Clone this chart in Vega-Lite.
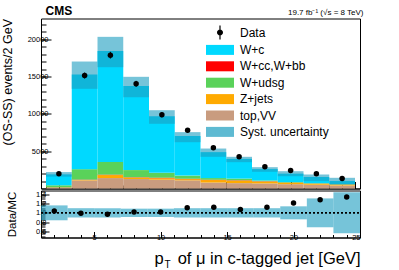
{
"$schema":"https://vega.github.io/schema/vega-lite/v6.json",
"padding":{"left":0,"top":3.5,"right":0,"bottom":0},
"config":{"font":"Liberation Sans","view":{"stroke":"black","strokeWidth":1},
 "axis":{"labelFont":"Liberation Sans","titleFont":"Liberation Sans","labelColor":"black","titleColor":"black","tickColor":"black","domainColor":"black","grid":false,"labelFontSize":7.5,"titleFontWeight":"normal","tickWidth":1,"domainWidth":1}},
"spacing":0,
"resolve":{"scale":{"color":"independent"},"legend":{"color":"independent"}},
"datasets":{
 "bins":[
  {"x0":1,"x1":3,"xc":2,"d":1970,"elo":1820,"ehi":2120,"lo":1590,"hi":2200,"r":1.04,"rlo":0.84,"rhi":1.16},
  {"x0":3,"x1":5,"xc":4,"d":15150,"elo":14750,"ehi":15550,"lo":13370,"hi":17030,"r":0.99,"rlo":0.90,"rhi":1.10},
  {"x0":5,"x1":7,"xc":6,"d":17880,"elo":17430,"ehi":18330,"lo":16270,"hi":20340,"r":0.97,"rlo":0.90,"rhi":1.10},
  {"x0":7,"x1":9,"xc":8,"d":14040,"elo":13640,"ehi":14440,"lo":12240,"hi":14980,"r":1.02,"rlo":0.91,"rhi":1.09},
  {"x0":9,"x1":11,"xc":10,"d":9880,"elo":9550,"ehi":10210,"lo":8680,"hi":10500,"r":1.02,"rlo":0.91,"rhi":1.09},
  {"x0":11,"x1":13,"xc":12,"d":7820,"elo":7530,"ehi":8110,"lo":6210,"hi":7560,"r":1.11,"rlo":0.90,"rhi":1.10},
  {"x0":13,"x1":15,"xc":14,"d":5460,"elo":5220,"ehi":5700,"lo":4250,"hi":5360,"r":1.12,"rlo":0.90,"rhi":1.10},
  {"x0":15,"x1":17,"xc":16,"d":4250,"elo":4040,"ehi":4460,"lo":3530,"hi":4250,"r":1.07,"rlo":0.90,"rhi":1.10},
  {"x0":17,"x1":19,"xc":18,"d":2910,"elo":2730,"ehi":3090,"lo":2240,"hi":2860,"r":1.12,"rlo":0.90,"rhi":1.10},
  {"x0":19,"x1":21,"xc":20,"d":2410,"elo":2250,"ehi":2570,"lo":1650,"hi":2320,"r":1.21,"rlo":0.86,"rhi":1.14},
  {"x0":21,"x1":23,"xc":22,"d":1970,"elo":1820,"ehi":2120,"lo":980,"hi":1880,"r":1.28,"rlo":0.69,"rhi":1.31},
  {"x0":23,"x1":25,"xc":24,"d":1340,"elo":1210,"ehi":1470,"lo":536,"hi":1435,"r":1.34,"rlo":0.56,"rhi":1.44}
 ],
 "stack":[
  {"x0":1,"x1":3,"c":"top,VV","k":0,"v":80},{"x0":1,"x1":3,"c":"Z+jets","k":1,"v":40},{"x0":1,"x1":3,"c":"W+cc,W+bb","k":2,"v":30},{"x0":1,"x1":3,"c":"W+udsg","k":3,"v":280},{"x0":1,"x1":3,"c":"W+c","k":4,"v":1465},
  {"x0":3,"x1":5,"c":"top,VV","k":0,"v":1080},{"x0":3,"x1":5,"c":"Z+jets","k":1,"v":60},{"x0":3,"x1":5,"c":"W+cc,W+bb","k":2,"v":50},{"x0":3,"x1":5,"c":"W+udsg","k":3,"v":1400},{"x0":3,"x1":5,"c":"W+c","k":4,"v":12710},
  {"x0":5,"x1":7,"c":"top,VV","k":0,"v":1400},{"x0":5,"x1":7,"c":"Z+jets","k":1,"v":400},{"x0":5,"x1":7,"c":"W+cc,W+bb","k":2,"v":60},{"x0":5,"x1":7,"c":"W+udsg","k":3,"v":1700},{"x0":5,"x1":7,"c":"W+c","k":4,"v":14870},
  {"x0":7,"x1":9,"c":"top,VV","k":0,"v":1270},{"x0":7,"x1":9,"c":"Z+jets","k":1,"v":200},{"x0":7,"x1":9,"c":"W+cc,W+bb","k":2,"v":40},{"x0":7,"x1":9,"c":"W+udsg","k":3,"v":960},{"x0":7,"x1":9,"c":"W+c","k":4,"v":11290},
  {"x0":9,"x1":11,"c":"top,VV","k":0,"v":1180},{"x0":9,"x1":11,"c":"Z+jets","k":1,"v":200},{"x0":9,"x1":11,"c":"W+cc,W+bb","k":2,"v":70},{"x0":9,"x1":11,"c":"W+udsg","k":3,"v":650},{"x0":9,"x1":11,"c":"W+c","k":4,"v":7590},
  {"x0":11,"x1":13,"c":"top,VV","k":0,"v":1090},{"x0":11,"x1":13,"c":"Z+jets","k":1,"v":170},{"x0":11,"x1":13,"c":"W+cc,W+bb","k":2,"v":50},{"x0":11,"x1":13,"c":"W+udsg","k":3,"v":420},{"x0":11,"x1":13,"c":"W+c","k":4,"v":5315},
  {"x0":13,"x1":15,"c":"top,VV","k":0,"v":800},{"x0":13,"x1":15,"c":"Z+jets","k":1,"v":330},{"x0":13,"x1":15,"c":"W+cc,W+bb","k":2,"v":50},{"x0":13,"x1":15,"c":"W+udsg","k":3,"v":220},{"x0":13,"x1":15,"c":"W+c","k":4,"v":3475},
  {"x0":15,"x1":17,"c":"top,VV","k":0,"v":720},{"x0":15,"x1":17,"c":"Z+jets","k":1,"v":330},{"x0":15,"x1":17,"c":"W+cc,W+bb","k":2,"v":50},{"x0":15,"x1":17,"c":"W+udsg","k":3,"v":230},{"x0":15,"x1":17,"c":"W+c","k":4,"v":2640},
  {"x0":17,"x1":19,"c":"top,VV","k":0,"v":680},{"x0":17,"x1":19,"c":"Z+jets","k":1,"v":250},{"x0":17,"x1":19,"c":"W+cc,W+bb","k":2,"v":40},{"x0":17,"x1":19,"c":"W+udsg","k":3,"v":100},{"x0":17,"x1":19,"c":"W+c","k":4,"v":1530},
  {"x0":19,"x1":21,"c":"top,VV","k":0,"v":580},{"x0":19,"x1":21,"c":"Z+jets","k":1,"v":180},{"x0":19,"x1":21,"c":"W+cc,W+bb","k":2,"v":30},{"x0":19,"x1":21,"c":"W+udsg","k":3,"v":80},{"x0":19,"x1":21,"c":"W+c","k":4,"v":1120},
  {"x0":21,"x1":23,"c":"top,VV","k":0,"v":500},{"x0":21,"x1":23,"c":"Z+jets","k":1,"v":130},{"x0":21,"x1":23,"c":"W+cc,W+bb","k":2,"v":30},{"x0":21,"x1":23,"c":"W+udsg","k":3,"v":60},{"x0":21,"x1":23,"c":"W+c","k":4,"v":820},
  {"x0":23,"x1":25,"c":"top,VV","k":0,"v":400},{"x0":23,"x1":25,"c":"Z+jets","k":1,"v":130},{"x0":23,"x1":25,"c":"W+cc,W+bb","k":2,"v":20},{"x0":23,"x1":25,"c":"W+udsg","k":3,"v":50},{"x0":23,"x1":25,"c":"W+c","k":4,"v":400}
 ]
},
"vconcat":[
 {"width":319,"height":170,
  "resolve":{"axis":{"x":"independent","y":"independent"}},
  "layer":[
   {"data":{"name":"stack"},"mark":{"type":"bar","orient":"vertical"},
    "encoding":{
     "x":{"field":"x0","type":"quantitative","scale":{"domain":[1,25],"nice":false,"zero":false},"axis":{"orient":"bottom","values":[5,10,15,20,25],"labels":false,"tickSize":-7,"title":null}},
     "x2":{"field":"x1"},
     "y":{"field":"v","type":"quantitative","stack":"zero","scale":{"domain":[0,22800],"nice":false},"axis":{"orient":"left","values":[5000,10000,15000,20000],"format":"d","tickSize":-10,"labelPadding":3,"title":"(OS-SS) events/2 GeV","titleFontSize":12.5,"titleAnchor":"end","titleX":-30,"titleBaseline":"alphabetic"}},
     "color":{"field":"c","type":"nominal",
       "scale":{"domain":["Data","W+c","W+cc,W+bb","W+udsg","Z+jets","top,VV","Syst. uncertainty"],"range":["#000000","#00d9ff","#ff0000","#5ad25a","#ffaa00","#c99c7f","#1a9dbf"]},
       "legend":{"orient":"none","legendX":173,"legendY":8,"title":null,"labelFontSize":12,"labelFont":"Liberation Sans","labelColor":"black","symbolSize":100,"symbolType":"M-2.8,-1H2.8V1H-2.8Z","labelOffset":14,"rowPadding":4.4,"padding":0,"symbolStrokeWidth":0,"symbolOpacity":1,"labelLimit":200,
         "encode":{"symbols":{"update":{"shape":{"signal":"datum.value === 'Data' ? 'M-0.6,0A0.6,0.6 0 1,1 0.6,0A0.6,0.6 0 1,1 -0.6,0ZM-0.12,-1.4H0.12V1.4H-0.12Z' : 'M-2.8,-1H2.8V1H-2.8Z'"},"opacity":{"signal":"datum.value === 'Syst. uncertainty' ? 0.7 : 1"}}}}}},
     "order":{"field":"k","type":"quantitative"}
    }},
   {"data":{"name":"bins"},"mark":{"type":"rect","opacity":0.6},
    "encoding":{
     "x":{"field":"x0","type":"quantitative","axis":{"orient":"bottom","values":[1,2,3,4,5,6,7,8,9,10,11,12,13,14,15,16,17,18,19,20,21,22,23,24,25],"labels":false,"domain":false,"tickSize":-3.5,"title":null}},
     "x2":{"field":"x1"},
     "y":{"field":"lo","type":"quantitative","axis":{"orient":"left","values":[1000,2000,3000,4000,5000,6000,7000,8000,9000,10000,11000,12000,13000,14000,15000,16000,17000,18000,19000,20000,21000,22000],"labels":false,"domain":false,"tickSize":-5,"title":null}},
     "y2":{"field":"hi"},
     "color":{"datum":"Syst. uncertainty"}}},
   {"data":{"name":"bins"},"mark":{"type":"rule","color":"black","strokeWidth":1},
    "encoding":{
     "x":{"field":"xc","type":"quantitative","axis":{"orient":"top","labels":false,"ticks":false,"domain":false,"title":"CMS","titleFontSize":12,"titleFontWeight":"bold","titleX":4,"titleY":-4,"titleAlign":"left","titleBaseline":"alphabetic"}},
     "y":{"field":"elo","type":"quantitative","axis":null},
     "y2":{"field":"ehi"}}},
   {"data":{"name":"bins"},"mark":{"type":"circle","size":30,"opacity":1},
    "encoding":{
     "x":{"field":"xc","type":"quantitative","axis":{"orient":"top","labels":false,"ticks":false,"domain":false,"title":"19.7 fb⁻¹ (√s = 8 TeV)","titleFontSize":8,"titleX":322,"titleY":-4,"titleAlign":"right","titleBaseline":"alphabetic"}},
     "y":{"field":"d","type":"quantitative","axis":null},
     "color":{"datum":"Data"}}}
  ]},
 {"width":319,"height":47,
  "resolve":{"axis":{"x":"independent","y":"independent"}},
  "layer":[
   {"data":{"name":"bins"},"mark":{"type":"rect","color":"#1a9dbf","opacity":0.6},
    "encoding":{
     "x":{"field":"x0","type":"quantitative","scale":{"domain":[1,25],"nice":false,"zero":false},"axis":{"orient":"bottom","values":[5,10,15,20,25],"tickSize":-6,"labelPadding":2,"title":"of μ in c-tagged jet [GeV]","titleFontSize":16.5,"titleX":319,"titleY":26,"titleAlign":"right","titleBaseline":"alphabetic"}},
     "x2":{"field":"x1"},
     "y":{"field":"rlo","type":"quantitative","scale":{"domain":[0.47,1.48],"nice":false,"zero":false},"axis":{"orient":"left","values":[0.6,0.8,1,1.2,1.4],"tickSize":-8,"labelPadding":3,"title":"Data/MC","titleFontSize":11.5,"titleAnchor":"middle","titleX":-26,"titleBaseline":"alphabetic"}},
     "y2":{"field":"rhi"}}},
   {"data":{"values":[{"one":1,"a":1,"b":25}]},"mark":{"type":"rule","color":"black","strokeDash":[2,2],"strokeWidth":1.8},
    "encoding":{
     "x":{"field":"a","type":"quantitative","axis":{"orient":"bottom","labels":false,"ticks":false,"domain":false,"title":"p","titleFontSize":16.5,"titleX":113,"titleY":26,"titleAlign":"left","titleBaseline":"alphabetic"}},
     "x2":{"field":"b"},
     "y":{"field":"one","type":"quantitative","axis":null}}},
   {"data":{"name":"bins"},"mark":{"type":"circle","size":30,"color":"black","opacity":1},
    "encoding":{
     "x":{"field":"xc","type":"quantitative","axis":{"orient":"bottom","values":[1,2,3,4,5,6,7,8,9,10,11,12,13,14,15,16,17,18,19,20,21,22,23,24,25],"labels":false,"domain":false,"tickSize":-3,"title":"T","titleFontSize":10,"titleX":123,"titleY":30,"titleAlign":"left","titleBaseline":"alphabetic"}},
     "y":{"field":"r","type":"quantitative","axis":{"orient":"left","values":[0.5,0.55,0.6,0.65,0.7,0.75,0.8,0.85,0.9,0.95,1,1.05,1.1,1.15,1.2,1.25,1.3,1.35,1.4,1.45],"labels":false,"domain":false,"tickSize":-4,"title":null}}}}
  ]}
]
}
